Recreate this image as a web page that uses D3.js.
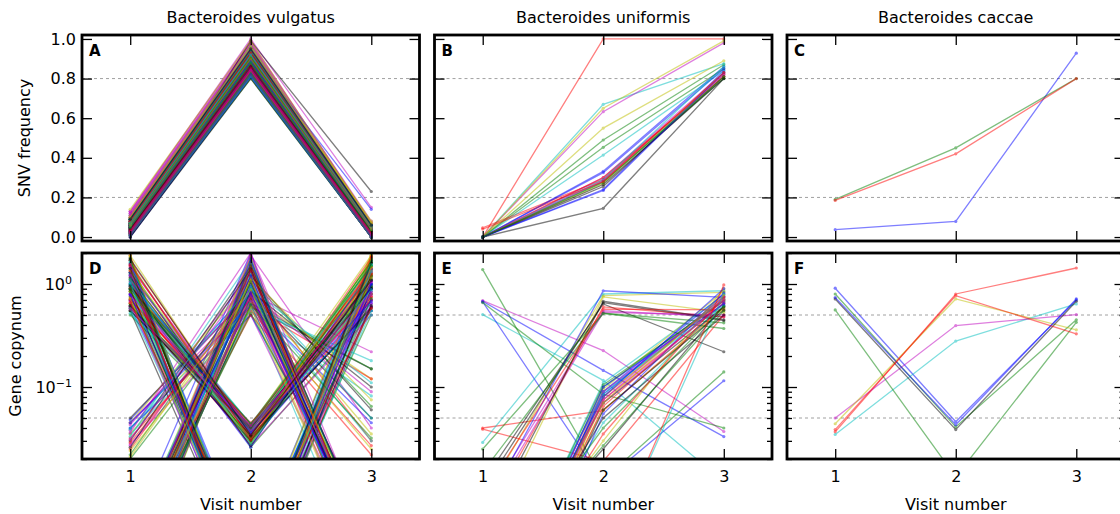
<!DOCTYPE html>
<html>
<head>
<meta charset="utf-8">
<script src="https://cdn.jsdelivr.net/npm/d3@7"></script>
<style>
  body { margin: 0; background: #ffffff; }
  svg text { font-family: "DejaVu Sans", "Liberation Sans", sans-serif; fill: #000; }
</style>
</head>
<body>
<svg id="chart" width="1120" height="514"></svg>
<script>
// ---- data ---------------------------------------------------------------
const visits = [1, 2, 3];
const species = ["Bacteroides vulgatus", "Bacteroides uniformis", "Bacteroides caccae"];
const panelLetters = [["A", "B", "C"], ["D", "E", "F"]];
const snvTicks = [0.0, 0.2, 0.4, 0.6, 0.8, 1.0];
const snvGuides = [0.2, 0.8];
const copyMajorTicks = [0.1, 1];
const copyMinorTicks = [0.02, 0.03, 0.04, 0.05, 0.06, 0.07, 0.08, 0.09,
                        0.2, 0.3, 0.4, 0.5, 0.6, 0.7, 0.8, 0.9, 2];
const copyGuides = [0.05, 0.5];

// SNV frequency, B. vulgatus (one entry per SNV at visits 1, 2, 3)
const vulgatusV1 = [
  0.02,0.05,0.08,0.11,0.13,0.03,0.06, 0.01,0.04,0.07,0.10,0.12,0.09,0.00,
  0.03,0.06,0.05,0.08,0.02,0.11,0.04, 0.07,0.01,0.09,0.05,0.13,0.03,0.06,
  0.00,0.04,0.10,0.07,0.02,0.08,0.05, 0.06,0.03,0.01,0.09,0.12,0.04,0.02,
  0.05,0.08,0.06,0.03,0.07,0.10,0.01, 0.04,0.02,0.07,0.05,0.09,0.06,0.03,
  0.08,0.04,0.06,0.02,0.11,0.05,0.00, 0.03,0.07,0.04,0.08,0.06,0.01,0.05,
  0.06,0.02,0.05,0.09,0.04,0.14,0.07, 0.01,0.06,0.03,0.07,0.05,0.08,0.02,
  0.04,0.09,0.03,0.06,0.02,0.08,0.05, 0.07,0.03,0.05,0.01,0.10,0.04,0.06,
  0.02,0.06,0.08,0.04,0.03,0.05,0.09, 0.05,0.01,0.07,0.03,0.06,0.02,0.04,
  0.08,0.05,0.02,0.06,0.04,0.07,0.03, 0.03,0.07,0.04,0.09,0.05,0.01,0.06,
  0.06,0.02,0.08,0.05,0.03,0.10,0.04, 0.01,0.05,0.03,0.07,0.02,0.06,0.09];
const vulgatusV2 = [
  0.86,0.92,0.95,0.97,0.99,0.84,0.90, 0.82,0.88,0.93,0.96,0.98,0.94,0.81,
  0.85,0.91,0.89,0.94,0.83,0.97,0.87, 0.92,0.80,0.95,0.88,1.00,0.84,0.90,
  0.81,0.86,0.96,0.93,0.83,0.92,0.89, 0.90,0.85,0.82,0.95,0.98,0.87,0.84,
  0.88,0.94,0.91,0.86,0.93,0.97,0.82, 0.87,0.83,0.92,0.89,0.95,0.90,0.99,
  0.93,0.86,0.91,0.84,0.97,0.88,0.80, 0.85,0.92,0.87,0.94,0.90,0.82,0.89,
  0.91,0.84,0.88,0.96,0.86,0.99,0.93, 0.81,0.90,0.85,0.92,0.88,0.94,0.83,
  0.87,0.93,0.85,0.90,0.83,0.92,0.88, 0.91,0.84,0.89,0.81,0.95,0.86,0.90,
  0.83,0.89,0.93,0.86,0.84,0.88,0.94, 0.88,0.82,0.91,0.85,0.90,0.83,0.87,
  0.92,0.88,0.84,0.90,0.86,0.91,0.85, 0.85,0.91,0.87,0.94,0.89,0.82,0.90,
  0.89,0.83,0.93,0.88,0.85,0.96,0.86, 0.82,0.88,0.85,0.92,0.84,0.90,0.95];
const vulgatusV3 = [
  0.02,0.04,0.05,0.06,0.07,0.01,0.03, 0.00,0.03,0.05,0.06,0.08,0.04,0.00,
  0.01,0.04,0.03,0.05,0.01,0.06,0.02, 0.04,0.00,0.05,0.03,0.15,0.02,0.04,
  0.00,0.02,0.06,0.05,0.01,0.04,0.03, 0.03,0.02,0.00,0.05,0.07,0.03,0.01,
  0.03,0.05,0.04,0.02,0.05,0.06,0.00, 0.02,0.01,0.04,0.03,0.06,0.02,0.23,
  0.14,0.02,0.04,0.01,0.05,0.03,0.00, 0.02,0.04,0.03,0.05,0.04,0.00,0.03,
  0.04,0.01,0.03,0.06,0.02,0.07,0.05, 0.00,0.03,0.02,0.04,0.03,0.08,0.01,
  0.03,0.05,0.02,0.04,0.01,0.05,0.03, 0.05,0.02,0.04,0.00,0.06,0.03,0.04,
  0.01,0.04,0.06,0.03,0.02,0.03,0.06, 0.03,0.00,0.05,0.02,0.04,0.01,0.03,
  0.06,0.03,0.01,0.04,0.03,0.05,0.02, 0.02,0.05,0.03,0.06,0.04,0.00,0.04,
  0.04,0.01,0.05,0.03,0.02,0.07,0.03, 0.00,0.03,0.02,0.05,0.01,0.04,0.06];

// SNV frequency, B. uniformis
const uniformisV1 = [0,0,0,0,0,0,0, 0,0,0.047,0,0,0,0, 0,0,0,0,0,0,0, 0,0,0.04];
const uniformisV2 = [0.332,0.49,1.0,0.67,0.633,0.65,0.145, 0.24,0.453,0.29,0.414,0.30,0.55,0.255,
                     0.325,0.28,0.30,0.29,0.285,0.27,0.265, 0.235,0.275,0.28];
const uniformisV3 = [0.86,0.87,1.0,0.875,0.98,0.99,0.80, 0.84,0.85,0.82,0.84,0.83,0.89,0.81,
                     0.85,0.80,0.81,0.86,0.82,0.83,0.80, 0.83,0.81,0.83];

// SNV frequency, B. caccae
const caccaeV1 = [0.037, 0.19, 0.185];
const caccaeV2 = [0.079, 0.45, 0.42];
const caccaeV3 = [0.928, 0.80, 0.80];

// Gene copy number, B. vulgatus (visit 1, visit 2, visit 3)
const vulgatusCopynum = [
  [1.6,0.002,1.4],[0.9,0.035,0.8],[0.003,1.2,0.002],[0.7,0.0015,1.8],[0.045,0.7,0.003],[1.1,0.04,1.3],[0.002,0.9,0.004],
  [1.2,0.001,0.9],[0.002,1.8,0.001],[0.6,0.03,0.7],[0.035,0.55,0.082],[0.004,0.8,0.22],[0.8,0.042,1.9],[0.55,0.0012,0.6],
  [0.048,0.9,0.002],[1.4,0.026,0.55],[0.85,0.002,1.1],[0.04,0.6,0.001],[0.003,1.5,0.003],[0.035,0.75,0.12],[1.0,0.038,1.0],
  [0.0015,0.65,0.045],[0.003,1.1,0.065],[1.9,0.0009,0.75],[0.65,0.033,1.5],[0.028,0.5,0.002],[1.3,0.002,2.0],[0.002,0.6,0.15],
  [1.0,0.03,0.65],[0.9,0.0015,0.5],[0.025,0.95,0.03],[0.002,1.3,0.003],[0.7,0.044,1.2],[1.5,0.0018,0.95],[0.05,0.8,0.05],
  [0.6,0.0025,1.6],[0.022,1.0,0.002],[1.7,0.036,0.9],[0.003,0.7,0.002],[0.001,1.9,0.04],[0.75,0.029,0.85],[1.8,0.0013,1.2],
  [0.004,2.0,0.001],[0.55,0.04,1.0],[0.032,0.6,0.12],[1.1,0.0016,0.7],[0.038,1.3,0.002],[0.001,0.85,0.035],[1.3,0.032,0.6],
  [0.8,0.0011,1.4],[0.5,0.034,1.7],[0.002,0.55,0.027],[1.2,0.043,1.1],[0.002,1.0,0.001],[0.9,0.0022,1.9],[0.03,1.5,0.003],
  [0.95,0.037,0.55],[0.002,0.7,0.004],[1.5,0.0014,1.3],[0.003,0.9,0.05],[0.6,0.031,1.3],[0.045,1.1,0.002],[0.7,0.0017,0.8],
  [0.003,1.4,0.003],[1.6,0.028,1.6],[0.65,0.045,0.7],[1.4,0.0012,0.55],[0.027,0.8,0.09],[1.9,0.033,1.4],[0.001,1.1,0.002],
  [0.8,0.041,0.9],[0.02,0.65,0.15],[0.002,1.6,0.001],[1.0,0.0019,1.7],[0.8,0.027,0.5],[0.003,0.6,0.025],[0.55,0.039,1.1],
  [1.3,0.001,1.0],[0.001,0.9,0.003],[0.7,0.037,1.8],[0.033,1.7,0.002],[1.2,0.0013,0.65],[0.85,0.03,1.2],[0.002,1.2,0.06],
  [0.04,0.5,0.004],[1.1,0.0016,1.5],[1.5,0.035,0.75],[0.002,0.75,0.03],[0.6,0.042,0.6],[0.003,1.7,0.002],[1.7,0.0011,0.9],
  [0.9,0.026,1.4],[0.75,0.0021,1.2],[0.003,0.5,0.022],[1.0,0.044,0.5],[0.036,2.0,0.003],[0.65,0.032,1.6],[0.003,0.85,0.1],
  [1.25,0.0014,1.05],[0.95,0.031,0.95],[0.0025,1.45,0.0015],[0.58,0.0018,1.35],[0.043,0.85,0.002],[1.35,0.036,0.8],[0.0015,0.75,0.003],
  [0.002,0.95,0.0025],[1.75,0.0012,1.75],[0.72,0.034,1.45],[0.0035,1.25,0.0012],[1.45,0.039,0.7],[0.024,0.65,0.0015],[0.88,0.0016,0.62],
  [0.0012,1.65,0.002],[0.62,0.038,0.95],[1.15,0.0017,1.25],[0.0018,0.58,0.18],[0.031,1.15,0.002],[1.05,0.029,1.75],[0.0028,1.35,0.0018],
  [1.55,0.0023,0.85],[0.0022,0.52,0.0035],[0.92,0.043,1.35],[0.0016,1.05,0.0022],[0.68,0.0013,1.05],[0.0025,1.85,0.002],[1.15,0.033,0.58],
  [0.045,0.62,0.0025],[0.58,0.04,1.25],[0.0018,0.8,0.0028],[1.65,0.0019,1.55],[0.78,0.035,0.78],[0.0022,1.15,0.075],[0.97,0.027,1.15],
  [0.0014,1.75,0.0015],[1.25,0.0021,0.72],[0.029,0.72,0.0018],[0.52,0.037,1.55],[0.0025,0.68,0.0032],[1.85,0.0015,1.15],[0.62,0.03,0.92],
  [0.0032,1.2,0.002],[0.84,0.041,1.65],[1.35,0.0011,1.85],[0.0021,0.9,0.11],[1.22,0.038,1.05],[0.0028,0.6,0.0014],[0.026,1.4,0.0024],
  [0.78,0.0026,0.98],[0.0018,1.55,0.0028],[1.55,0.031,1.25],[0.039,0.95,0.0016],[0.0012,0.78,0.0022],[0.72,0.0014,1.45],[0.0026,1.05,0.0019],
  [1.05,0.036,0.68],[0.0016,0.63,0.032],[0.66,0.0024,0.58],[1.12,0.028,0.88],[0.0023,1.95,0.0017],[0.021,0.88,0.0026],[1.42,0.0017,1.6],
  [0.0031,0.82,0.0021],[0.9,0.044,1.5],[0.0019,1.35,0.0024],[1.02,0.0013,1.32],[0.57,0.042,0.82],[0.0027,1.08,0.0031],[1.75,0.034,1.08]
];

// Gene copy number, B. uniformis
const uniformisCopynum = [
  [0.68,0.145,0.033],[1.38,0.0126,0.14],[0.04,0.059,0.6],[0.505,0.116,0.012],[0.69,0.226,0.037],[0.008,0.77,0.83],[0.01,0.66,0.44],
  [0.67,0.012,0.115],[0.66,0.085,0.04],[0.039,0.019,0.5],[0.029,0.8,0.86],[0.007,0.55,0.48],[0.003,0.75,0.53],[0.012,0.64,0.22],
  [0.006,0.86,0.74],[0.025,0.52,0.37],[0.005,0.6,0.48],[0.0004,0.11,0.78],[0.006,0.53,0.5],[0.0002,0.095,0.85],[0.004,0.68,0.45],
  [0.0002,0.09,0.8],[0.015,0.52,0.42],[0.009,0.57,0.56],[0.0005,0.045,0.66],[0.0003,0.08,0.72],[0.0004,0.06,0.58],[0.0005,0.07,0.6],
  [0.0003,0.085,0.75],[0.0003,0.1,0.7],[0.0002,0.075,0.65],[0.0006,0.085,0.7],[0.0003,0.075,0.76],[0.0008,0.03,0.9],[0.0012,0.025,0.62],
  [0.0001,0.055,0.82],[0.0004,0.105,0.68],[0.0002,0.065,0.7],[0.0005,0.09,0.62],[0.0004,0.07,0.66],[0.0003,0.08,0.72],[0.0006,0.05,0.5],
  [0.0003,0.1,0.64],[0.001,0.04,0.6],[0.0005,0.035,0.75],[0.0002,0.002,0.8],[0.0004,0.09,0.7],[0.0003,0.07,0.78],[0.0002,0.06,0.56],
  [0.0004,0.08,0.9],[0.001,0.027,0.55],[0.0001,0.002,0.98]
];

// Gene copy number, B. caccae
const caccaeCopy1 = [0.91, 0.80, 0.0367, 0.0346, 0.05, 0.044, 0.716, 0.74, 0.56, 0.0386];
const caccaeCopy2 = [0.046, 0.041, 0.80, 0.279, 0.395, 0.716, 0.0386, 0.043, 0.0134, 0.77];
const caccaeCopy3 = [0.70, 0.45, 1.43, 0.64, 0.505, 0.359, 0.68, 0.716, 0.425, 0.328];

// ---- layout -------------------------------------------------------------
const colorCycle = ["#0000ff", "#008000", "#ff0000", "#00bfbf", "#bf00bf", "#bfbf00", "#000000"];
const plotW = 337.5, plotH = 206;
const colLeft = [82, 434.5, 787];
const rowTop = [35, 253];
const majorLen = 10, minorLen = 5;

const zip3 = (a, b, c) => a.map((v, i) => [v, b[i], c[i]]);

const panels = [
  { row: 0, col: 0, series: zip3(vulgatusV1, vulgatusV2, vulgatusV3) },
  { row: 0, col: 1, series: zip3(uniformisV1, uniformisV2, uniformisV3) },
  { row: 0, col: 2, series: zip3(caccaeV1, caccaeV2, caccaeV3) },
  { row: 1, col: 0, series: vulgatusCopynum },
  { row: 1, col: 1, series: uniformisCopynum },
  { row: 1, col: 2, series: zip3(caccaeCopy1, caccaeCopy2, caccaeCopy3) }
];

const svg = d3.select("#chart");
const defs = svg.append("defs");

function styleAxis(g, fontSize) {
  g.select(".domain").remove();
  g.attr("font-family", null).attr("font-size", null);
  g.selectAll(".tick line").attr("stroke", "#000").attr("stroke-width", 1.3);
  g.selectAll(".tick text").attr("font-size", fontSize).attr("fill", "#000");
}

panels.forEach((p, idx) => {
  const left = colLeft[p.col], top = rowTop[p.row];
  const g = svg.append("g").attr("transform", `translate(${left},${top})`);
  const clipId = `clip-${idx}`;
  defs.append("clipPath").attr("id", clipId)
    .append("rect").attr("width", plotW).attr("height", plotH);

  const x = d3.scaleLinear().domain([0.6, 3.4]).range([0, plotW]);
  const y = p.row === 0
    ? d3.scaleLinear().domain([-0.02, 1.02]).range([plotH, 0])
    : d3.scaleLog().domain([0.02, 2]).range([plotH, 0]);
  const guides = p.row === 0 ? snvGuides : copyGuides;

  // dashed reference levels
  g.selectAll("line.guide").data(guides).join("line")
    .attr("class", "guide")
    .attr("x1", 0).attr("x2", plotW)
    .attr("y1", d => y(d)).attr("y2", d => y(d))
    .attr("stroke", "#a0a0a0").attr("stroke-width", 1)
    .attr("stroke-dasharray", "3,3");

  // per-feature trajectories across visits
  const plot = g.append("g").attr("clip-path", `url(#${clipId})`);
  const line = d3.line().x((d, i) => x(visits[i])).y(d => y(d));
  const traj = plot.selectAll("g.traj").data(p.series).join("g")
    .attr("class", "traj")
    .attr("opacity", 0.5);
  traj.append("path")
    .attr("d", d => line(d))
    .attr("fill", "none")
    .attr("stroke", (d, i) => colorCycle[i % colorCycle.length])
    .attr("stroke-width", 1.3);
  traj.each(function (d, i) {
    d3.select(this).selectAll("circle").data(d).join("circle")
      .attr("cx", (v, j) => x(visits[j]))
      .attr("cy", v => y(v))
      .attr("r", 1.6)
      .attr("fill", colorCycle[i % colorCycle.length]);
  });

  // x ticks on top and bottom edges
  const xTop = g.append("g").call(d3.axisTop(x).tickValues(visits).tickSize(-majorLen).tickFormat(""));
  styleAxis(xTop, 16);
  const xBot = g.append("g").attr("transform", `translate(0,${plotH})`)
    .call(d3.axisBottom(x).tickValues(visits).tickSize(-majorLen).tickPadding(12)
      .tickFormat(p.row === 1 ? d3.format("d") : ""));
  styleAxis(xBot, 16);

  // y ticks on left and right edges
  if (p.row === 0) {
    const yl = g.append("g").call(d3.axisLeft(y).tickValues(snvTicks).tickSize(-majorLen)
      .tickPadding(6).tickFormat(p.col === 0 ? d3.format(".1f") : ""));
    styleAxis(yl, 16);
    const yr = g.append("g").attr("transform", `translate(${plotW},0)`)
      .call(d3.axisRight(y).tickValues(snvTicks).tickSize(-majorLen).tickFormat(""));
    styleAxis(yr, 16);
  } else {
    const yl = g.append("g").call(d3.axisLeft(y).tickValues(copyMajorTicks).tickSize(-majorLen)
      .tickPadding(10).tickFormat(p.col === 0 ? (d => String(Math.round(Math.log10(d)))) : ""));
    styleAxis(yl, 16);
    if (p.col === 0) {
      yl.selectAll(".tick text").each(function () {
        const t = d3.select(this);
        const exp = t.text().replace("-", "\u2212");
        t.text(null);
        t.append("tspan").text("10");
        t.append("tspan").attr("dy", "-0.5em").attr("font-size", 11).text(exp);
      });
    }
    const ylm = g.append("g").call(d3.axisLeft(y).tickValues(copyMinorTicks).tickSize(-minorLen).tickFormat(""));
    styleAxis(ylm, 16);
    const yr = g.append("g").attr("transform", `translate(${plotW},0)`)
      .call(d3.axisRight(y).tickValues(copyMajorTicks).tickSize(-majorLen).tickFormat(""));
    styleAxis(yr, 16);
    const yrm = g.append("g").attr("transform", `translate(${plotW},0)`)
      .call(d3.axisRight(y).tickValues(copyMinorTicks).tickSize(-minorLen).tickFormat(""));
    styleAxis(yrm, 16);
  }

  // frame
  g.append("rect").attr("width", plotW).attr("height", plotH)
    .attr("fill", "none").attr("stroke", "#000").attr("stroke-width", 2.8);

  // panel letter
  g.append("text").attr("x", 7).attr("y", 21)
    .attr("font-size", 15).attr("font-weight", "bold")
    .text(panelLetters[p.row][p.col]);

  if (p.row === 0) {
    g.append("text").attr("x", plotW / 2).attr("y", -12)
      .attr("text-anchor", "middle").attr("font-size", 16)
      .text(species[p.col]);
  } else {
    g.append("text").attr("x", plotW / 2).attr("y", plotH + 51)
      .attr("text-anchor", "middle").attr("font-size", 16)
      .text("Visit number");
  }
});

// y axis titles
svg.append("text")
  .attr("transform", `translate(30,${rowTop[0] + plotH / 2}) rotate(-90)`)
  .attr("text-anchor", "middle").attr("font-size", 16)
  .text("SNV frequency");
svg.append("text")
  .attr("transform", `translate(21,${rowTop[1] + plotH / 2}) rotate(-90)`)
  .attr("text-anchor", "middle").attr("font-size", 16)
  .text("Gene copynum");
</script>
</body>
</html>
